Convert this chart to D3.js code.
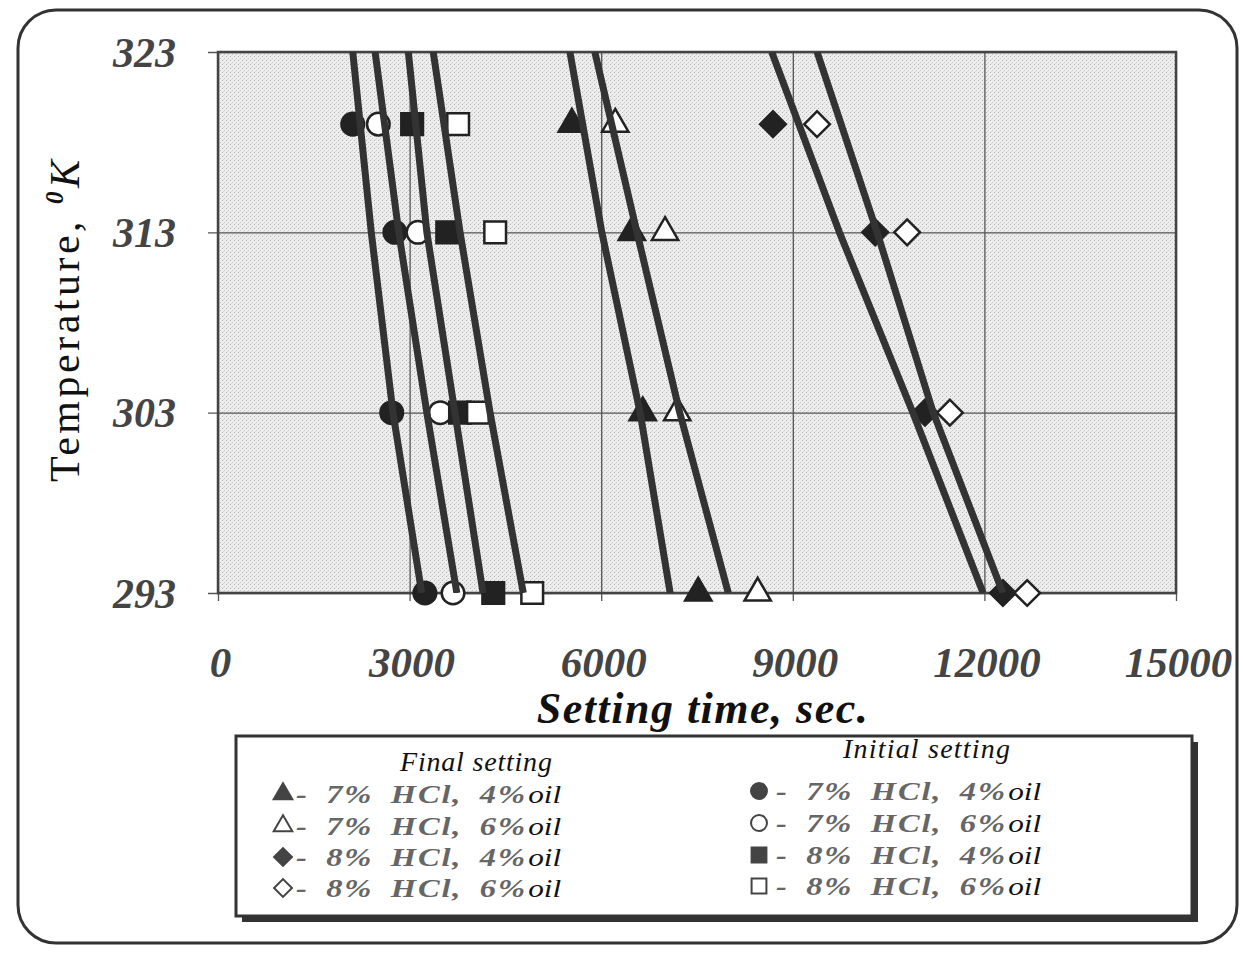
<!DOCTYPE html>
<html>
<head>
<meta charset="utf-8">
<script src="https://cdn.jsdelivr.net/npm/d3@7"></script>
<style>
  body { margin: 0; background: #fff; }
  text { font-family: "Liberation Serif", "Times New Roman", serif; }
</style>
</head>
<body>
<div id="wrapper"></div>
<script>
// temperatures (K) where the points were measured
const temps = [319, 313, 303, 293]
// temperatures used for the drawn trend lines
const lineTemps = [323, 313, 303, 293]

// final setting time, sec
const finalHcl7Oil4 = [5540, 6480, 6650, 7520]
const finalHcl7Oil6 = [6220, 7000, 7190, 8450]
const finalHcl8Oil4 = [8690, 10290, 11070, 12290]
const finalHcl8Oil6 = [9380, 10790, 11460, 12670]

// initial setting time, sec
const initialHcl7Oil4 = [2110, 2770, 2720, 3240]
const initialHcl7Oil6 = [2510, 3130, 3480, 3680]
const initialHcl8Oil4 = [3040, 3590, 3790, 4310]
const initialHcl8Oil6 = [3760, 4340, 4070, 4920]

// trend lines, time at 323, 313, 303, 293 K
const trendLines = [
  [2110, 2400, 2740, 3190],
  [2460, 2830, 3270, 3740],
  [2980, 3270, 3710, 4150],
  [3370, 3790, 4260, 4780],
  [5510, 6010, 6610, 7080],
  [5900, 6560, 7230, 7990],
  [8670, 9730, 10880, 11980],
  [9380, 10320, 11200, 12290],
]

const xTicks = [0, 3000, 6000, 9000, 12000, 15000]
const yTicks = [293, 303, 313, 323]

const legendLabels = ["7% HCl, 4%", "7% HCl, 6%", "8% HCl, 4%", "8% HCl, 6%"]

function drawChart() {
  const series = [
    { values: finalHcl7Oil4, shape: "triangle", filled: true, group: "final", label: legendLabels[0] },
    { values: finalHcl7Oil6, shape: "triangle", filled: false, group: "final", label: legendLabels[1] },
    { values: finalHcl8Oil4, shape: "diamond", filled: true, group: "final", label: legendLabels[2] },
    { values: finalHcl8Oil6, shape: "diamond", filled: false, group: "final", label: legendLabels[3] },
    { values: initialHcl7Oil4, shape: "circle", filled: true, group: "initial", label: legendLabels[0] },
    { values: initialHcl7Oil6, shape: "circle", filled: false, group: "initial", label: legendLabels[1] },
    { values: initialHcl8Oil4, shape: "square", filled: true, group: "initial", label: legendLabels[2] },
    { values: initialHcl8Oil6, shape: "square", filled: false, group: "initial", label: legendLabels[3] },
  ]

  let dimensions = {
    width: 1243,
    height: 953,
    margin: { top: 52, right: 67, bottom: 360, left: 218 },
  }
  dimensions.boundedWidth = dimensions.width - dimensions.margin.left - dimensions.margin.right
  dimensions.boundedHeight = dimensions.height - dimensions.margin.top - dimensions.margin.bottom

  const wrapper = d3.select("#wrapper")
    .append("svg")
      .attr("width", dimensions.width)
      .attr("height", dimensions.height)

  // speckled grey fill of the scanned plot area
  const defs = wrapper.append("defs")
  const pattern = defs.append("pattern")
      .attr("id", "stipple")
      .attr("width", 4)
      .attr("height", 4)
      .attr("patternUnits", "userSpaceOnUse")
  pattern.append("rect").attr("width", 4).attr("height", 4).attr("fill", "#eeeeee")
  pattern.append("rect").attr("x", 0).attr("y", 0).attr("width", 1).attr("height", 1).attr("fill", "#b0b0b0")
  pattern.append("rect").attr("x", 2).attr("y", 2).attr("width", 1).attr("height", 1).attr("fill", "#c4c4c4")
  pattern.append("rect").attr("x", 1).attr("y", 3).attr("width", 1).attr("height", 1).attr("fill", "#dadada")

  defs.append("clipPath").attr("id", "plotClip")
    .append("rect")
      .attr("width", dimensions.boundedWidth)
      .attr("height", dimensions.boundedHeight)

  // outer rounded frame
  wrapper.append("rect")
      .attr("x", 18).attr("y", 10)
      .attr("width", 1219).attr("height", 933)
      .attr("rx", 38)
      .attr("fill", "none")
      .attr("stroke", "#333")
      .attr("stroke-width", 3)

  const bounds = wrapper.append("g")
      .attr("transform", `translate(${dimensions.margin.left}, ${dimensions.margin.top})`)

  bounds.append("rect")
      .attr("width", dimensions.boundedWidth)
      .attr("height", dimensions.boundedHeight)
      .attr("fill", "url(#stipple)")

  const xScale = d3.scaleLinear()
      .domain([0, 15000])
      .range([0, dimensions.boundedWidth])
  const yScale = d3.scaleLinear()
      .domain([293, 323])
      .range([dimensions.boundedHeight, 0])

  // x axis with vertical gridlines
  const xAxisGenerator = d3.axisBottom(xScale)
      .tickValues(xTicks)
      .tickSize(-dimensions.boundedHeight)
      .tickFormat(d3.format("d"))
  const xAxis = bounds.append("g")
      .attr("transform", `translate(0, ${dimensions.boundedHeight})`)
      .call(xAxisGenerator)
  xAxis.select(".domain").remove()
  xAxis.selectAll("line")
      .attr("y1", 8)
      .attr("stroke", "#555")
      .attr("stroke-width", 1.3)
  xAxis.selectAll("text")
      .attr("y", 84)
      .attr("dy", 0)
      .attr("dx", 2)
      .attr("fill", "#444")
      .style("font-family", "'Liberation Serif', serif")
      .style("font-size", "43px")
      .style("font-style", "italic")
      .style("font-weight", "bold")

  // y axis with horizontal gridlines
  const yAxisGenerator = d3.axisLeft(yScale)
      .tickValues(yTicks)
      .tickSize(-dimensions.boundedWidth)
  const yAxis = bounds.append("g")
      .call(yAxisGenerator)
  yAxis.select(".domain").remove()
  yAxis.selectAll("line")
      .attr("x1", -10)
      .attr("stroke", "#555")
      .attr("stroke-width", 1.3)
  yAxis.selectAll("text")
      .attr("x", -42)
      .attr("dy", "0.34em")
      .attr("fill", "#444")
      .style("font-family", "'Liberation Serif', serif")
      .style("font-size", "42px")
      .style("font-style", "italic")
      .style("font-weight", "bold")

  // plot border
  bounds.append("rect")
      .attr("width", dimensions.boundedWidth)
      .attr("height", dimensions.boundedHeight)
      .attr("fill", "none")
      .attr("stroke", "#444")
      .attr("stroke-width", 2.5)

  // markers
  const symbolFor = {
    triangle: d3.symbol(d3.symbolTriangle, 300),
    circle: d3.symbol(d3.symbolCircle, 400),
    square: d3.symbol(d3.symbolSquare, 470),
    diamond: d3.symbol(d3.symbolSquare, 330),
  }

  const markerGroups = bounds.selectAll(".series")
      .data(series)
    .join("g")
      .attr("class", "series")
  markerGroups.selectAll("path")
      .data(s => s.values.map((v, i) => ({ time: v, temp: temps[i], s })))
    .join("path")
      .attr("d", d => symbolFor[d.s.shape]())
      .attr("transform", d => `translate(${xScale(d.time)}, ${yScale(d.temp)})` +
        (d.s.shape == "diamond" ? " rotate(45)" : ""))
      .attr("fill", d => d.s.filled ? "#222" : "#fff")
      .attr("stroke", "#222")
      .attr("stroke-width", 2.5)

  // trend lines drawn over the markers
  const lineGenerator = d3.line()
      .x(d => xScale(d))
      .y((d, i) => yScale(lineTemps[i]))
  bounds.append("g")
      .attr("clip-path", "url(#plotClip)")
    .selectAll("path")
      .data(trendLines)
    .join("path")
      .attr("d", lineGenerator)
      .attr("fill", "none")
      .attr("stroke", "#333")
      .attr("stroke-width", 7)
      .attr("stroke-linejoin", "round")

  // axis titles
  wrapper.append("text")
      .attr("x", 703)
      .attr("y", 723)
      .attr("text-anchor", "middle")
      .style("font-size", "44px")
      .style("font-style", "italic")
      .style("font-weight", "bold")
      .style("letter-spacing", "1.5px")
      .attr("fill", "#111")
      .text("Setting time, sec.")

  const yLabel = wrapper.append("text")
      .attr("transform", "translate(79, 482) rotate(-90)")
      .style("font-size", "42px")
      .style("letter-spacing", "3.5px")
      .attr("fill", "#111")
  yLabel.append("tspan").text("Temperature, ")
  yLabel.append("tspan")
      .attr("dy", -16)
      .style("font-size", "25px")
      .style("font-style", "italic")
      .style("font-weight", "bold")
      .text("0")
  yLabel.append("tspan")
      .attr("dy", 16)
      .style("font-style", "italic")
      .text("K")

  // legend
  const legend = wrapper.append("g")
  legend.append("rect")
      .attr("x", 242).attr("y", 742)
      .attr("width", 956).attr("height", 180)
      .attr("fill", "#333")
  legend.append("rect")
      .attr("x", 236).attr("y", 736)
      .attr("width", 956).attr("height", 180)
      .attr("fill", "#fff")
      .attr("stroke", "#333")
      .attr("stroke-width", 3)

  legend.append("text")
      .attr("x", 400).attr("y", 771)
      .style("font-size", "28px")
      .style("font-style", "italic")
      .style("letter-spacing", "0.8px")
      .attr("fill", "#111")
      .text("Final setting")
  legend.append("text")
      .attr("x", 843).attr("y", 758)
      .style("font-size", "28px")
      .style("font-style", "italic")
      .style("letter-spacing", "1.2px")
      .attr("fill", "#111")
      .text("Initial setting")

  const columns = [
    { group: "final", markerX: 283, textX: 296, rowY: [794, 826, 857, 888] },
    { group: "initial", markerX: 759, textX: 776, rowY: [791, 823, 855, 886] },
  ]
  const legendSymbol = {
    triangle: d3.symbol(d3.symbolTriangle, 150),
    circle: d3.symbol(d3.symbolCircle, 200),
    square: d3.symbol(d3.symbolSquare, 220),
    diamond: d3.symbol(d3.symbolSquare, 160),
  }
  columns.forEach(col => {
    const items = series.filter(s => s.group == col.group)
    items.forEach((s, i) => {
      const y = col.rowY[i]
      legend.append("path")
          .attr("d", legendSymbol[s.shape]())
          .attr("transform", `translate(${col.markerX}, ${y})` + (s.shape == "diamond" ? " rotate(45)" : ""))
          .attr("fill", s.filled ? "#444" : "#fff")
          .attr("stroke", "#444")
          .attr("stroke-width", 2)
      // scanned legend type is wide and low, so stretch it sideways
      const t = legend.append("text")
          .attr("transform", `translate(${col.textX}, ${y + 9}) scale(1.25, 1)`)
          .style("font-size", "26px")
          .style("font-style", "italic")
      t.append("tspan")
          .attr("fill", "#666")
          .style("font-weight", "bold")
          .style("letter-spacing", "1.5px")
          .style("word-spacing", "6px")
          .text("- " + s.label)
      t.append("tspan")
          .attr("dx", 1)
          .attr("fill", "#111")
          .style("font-size", "25px")
          .text("oil")
    })
  })
}
drawChart()
</script>
</body>
</html>
